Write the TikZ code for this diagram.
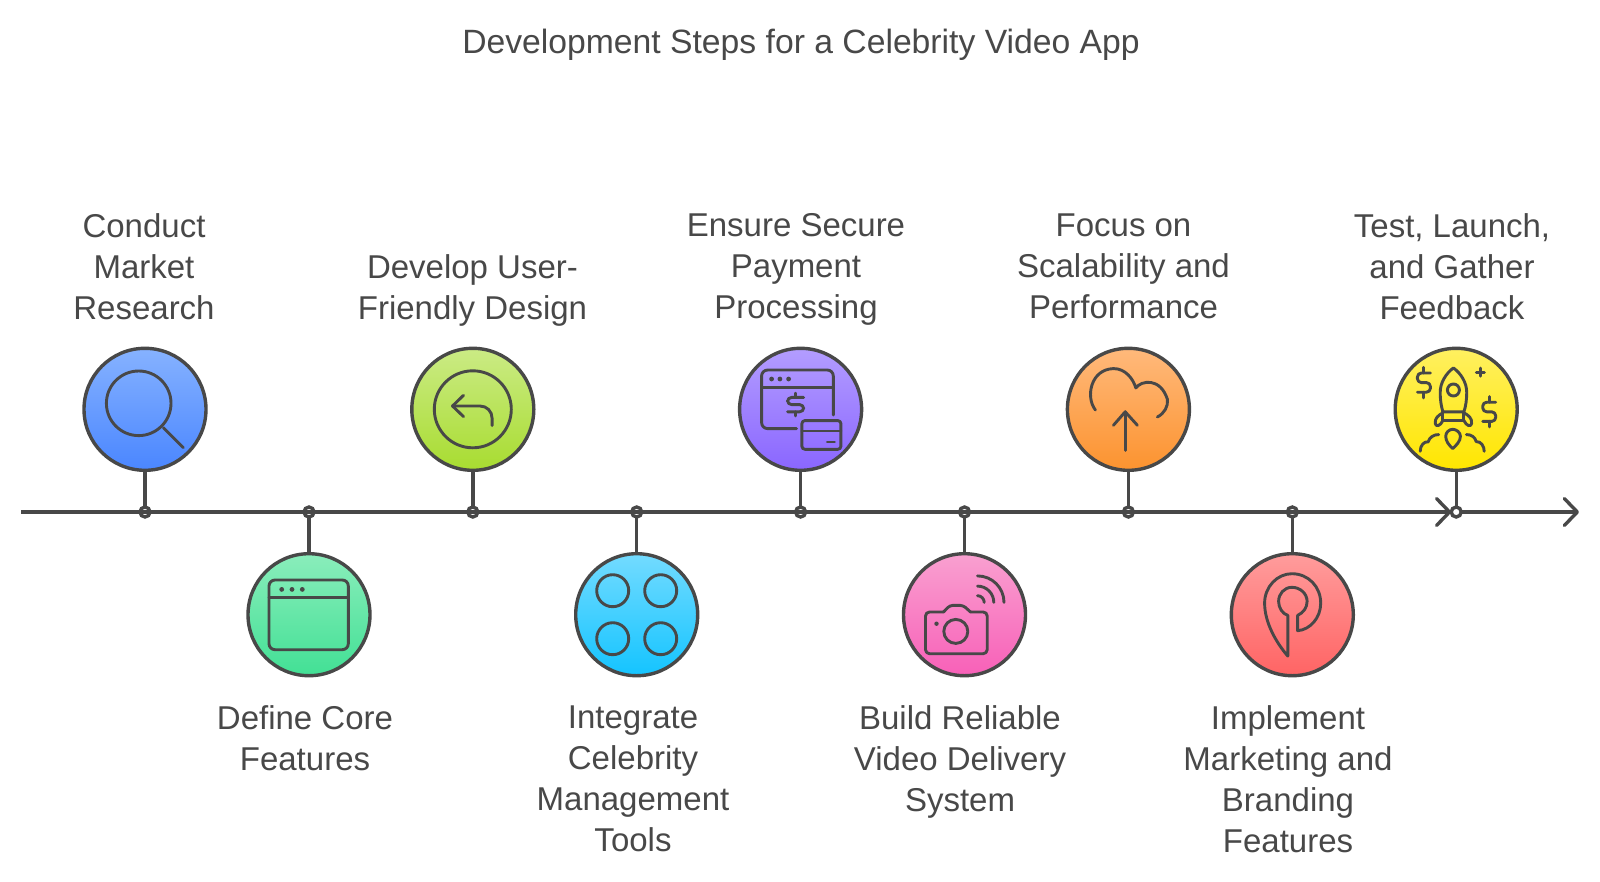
\documentclass[tikz,border=0pt]{standalone}
\usepackage{fontspec}
\setmainfont{Liberation Sans}
\usetikzlibrary{arrows.meta,positioning,shapes.geometric}
\definecolor{inchiostro}{HTML}{484848}
\begin{document}
\begin{tikzpicture}[x=1pt,y=-1pt]
\tikzset{base/.style={draw=inchiostro,line width=3.4pt,outer sep=0pt,inner sep=0pt}, }
\tikzset{step node/.style={base,circle,minimum size=122pt}, }
\tikzset{dot node/.style={base,circle,fill=white,minimum size=10pt}, }
\tikzset{label node/.style={text=inchiostro,align=center,font=\fontsize{33}{41}\selectfont,execute at begin node={\rule{0pt}{39.5pt}},execute at end node={\rule[-8.3pt]{0pt}{8.3pt}}}, }
\tikzset{icon/.style={draw=inchiostro,line width=2.9pt,line cap=round,line join=round}, }
\tikzset{linea/.style={draw=inchiostro,line width=3.4pt}, }
\tikzset{freccia/.style={linea,-{Straight Barb[length=13pt,width=27pt,round]}}, }
\tikzset{blue node/.style={top color=blue1,bottom color=blue2}, }
\definecolor{blue1}{HTML}{86B2FF}\definecolor{blue2}{HTML}{4A86FF}
\definecolor{mint1}{HTML}{8AEDBB}\definecolor{mint2}{HTML}{42E095}
\definecolor{lime1}{HTML}{CBEB85}\definecolor{lime2}{HTML}{A8DC30}
\definecolor{cyan1}{HTML}{73DBFF}\definecolor{cyan2}{HTML}{14C4FF}
\definecolor{viola1}{HTML}{B39DFF}\definecolor{viola2}{HTML}{8A66FF}
\definecolor{pink1}{HTML}{F9A0D0}\definecolor{pink2}{HTML}{F860B8}
\definecolor{orange1}{HTML}{FFB97B}\definecolor{orange2}{HTML}{FC932F}
\definecolor{red1}{HTML}{FF9C9C}\definecolor{red2}{HTML}{FF6464}
\definecolor{yellow1}{HTML}{FFF060}\definecolor{yellow2}{HTML}{FFE600}
\tikzset{mint node/.style={top color=mint1,bottom color=mint2}, }
\tikzset{lime node/.style={top color=lime1,bottom color=lime2}, }
\tikzset{cyan node/.style={top color=cyan1,bottom color=cyan2}, }
\tikzset{viola node/.style={top color=viola1,bottom color=viola2}, }
\tikzset{pink node/.style={top color=pink1,bottom color=pink2}, }
\tikzset{orange node/.style={top color=orange1,bottom color=orange2}, }
\tikzset{red node/.style={top color=red1,bottom color=red2}, }
\tikzset{yellow node/.style={top color=yellow1,bottom color=yellow2}, }
\tikzset{dollar/.pic={
	\draw[icon,rounded corners=4pt] (7,-6) -- (-7,-6) -- (-7,0) -- (7,0) -- (7,6) -- (-7,6);
	\draw[icon] (0,-9.5) -- (0,-6) (0,6) -- (0,9.5);
}, }
\path[use as bounding box] (0,0) rectangle (1600,881);

\node[label node,font=\fontsize{33.7}{41}\selectfont] (titolo) at (801,37.6) {Development Steps for a Celebrity Video App};

% timeline
\coordinate (start) at (21,512);
\coordinate (end) at (1579,512);
\node[dot node] (d1) at (145,512) {};
\node[dot node] (d2) at (309,512) {};
\node[dot node] (d3) at (472.8,512) {};
\node[dot node] (d4) at (636.7,512) {};
\node[dot node] (d5) at (800.6,512) {};
\node[dot node] (d6) at (964.5,512) {};
\node[dot node] (d7) at (1128.4,512) {};
\node[dot node] (d8) at (1292.3,512) {};
\node[dot node] (d9) at (1456.2,512) {};

\node[step node,blue node,above=36.7pt of d1] (s1) {};
\node[step node,mint node,below=36.7pt of d2] (s2) {};
\node[step node,lime node,above=36.7pt of d3] (s3) {};
\node[step node,cyan node,below=36.7pt of d4] (s4) {};
\node[step node,viola node,above=36.7pt of d5] (s5) {};
\node[step node,pink node,below=36.7pt of d6] (s6) {};
\node[step node,orange node,above=36.7pt of d7] (s7) {};
\node[step node,red node,below=36.7pt of d8] (s8) {};
\node[step node,yellow node,above=36.7pt of d9] (s9) {};

\draw[freccia] (start) -- (d9);
\draw[freccia] (d9) -- (end);
\foreach \n in {1,...,9} {
	\draw[linea] (s\n) -- (d\n);
}

\node[label node] (t1) at (144,270.6) {Conduct\\Market\\Research};
\node[label node] (t2) at (305,742) {Define Core\\Features};
\node[label node] (t3) at (472.5,291) {Develop User-\\Friendly Design};
\node[label node] (t4) at (633,783) {Integrate\\Celebrity\\Management\\Tools};
\node[label node] (t5) at (796,270.6) {Ensure Secure\\Payment\\Processing};
\node[label node] (t6) at (960,762.6) {Build Reliable\\Video Delivery\\System};
\node[label node] (t7) at (1123.5,270.6) {Focus on\\Scalability and\\Performance};
\node[label node] (t8) at (1288,783) {Implement\\Marketing and\\Branding\\Features};
\node[label node] (t9) at (1452,270.6) {Test, Launch,\\and Gather\\Feedback};

% icons
\begin{scope}[shift={(s1.center)}]
	\draw[icon] (-6.3,-6) circle (32.3);
	\draw[icon] (18.3,18.3) -- (38.3,38.3);
\end{scope}
\begin{scope}[shift={(s2.center)}]
	\draw[icon,rounded corners=6pt] (-40,-34.7) rectangle (39.3,35);
	\draw[icon] (-40,-17) -- (39.3,-17);
	\foreach \x in {-27.3,-17,-6.7} {
		\fill[inchiostro] (\x,-25.3) circle (2.4);
	}
\end{scope}
\begin{scope}[shift={(s3.center)}]
	\draw[icon] (0,0) circle (38.5);
	\draw[icon] (-9.3,-14) -- (-20.3,-3.3) -- (-9.3,7.3);
	\draw[icon] (-20.3,-3.3) -- (7.3,-3.3) .. controls (14,-3.3) and (19.3,2) .. (19.3,9) -- (19.3,16.3);
\end{scope}
\begin{scope}[shift={(s4.center)}]
	\foreach \x in {-24,24} {
		\foreach \y in {-24,24} {
			\draw[icon] (\x,\y) circle (16);
		}
	}
\end{scope}
\begin{scope}[shift={(s5.center)}]
	\draw[icon,rounded corners=6pt] (32.7,5.7) -- (32.7,-39.3) -- (-39,-39.3) -- (-39,19.3) -- (-4,19.3);
	\draw[icon] (-39,-22) -- (32.7,-22);
	\foreach \x in {-29,-20.7,-12} {
		\fill[inchiostro] (\x,-30.3) circle (2.4);
	}
	\pic[xscale=1.15,yscale=1.2] at (-5,-4.7) {dollar};
	\draw[icon,rounded corners=3pt] (1.3,11.3) rectangle (40.3,40);
	\draw[icon] (1.3,21.7) -- (40.3,21.7);
	\draw[icon] (26.7,32.7) -- (34,32.7);
\end{scope}
\begin{scope}[shift={(s6.center)}]
	\draw[icon,rounded corners=4pt] (-21,-2.7) -- (-39,-2.7) -- (-39,39) -- (22.7,39) -- (22.7,-2.7) -- (6,-2.7);
	\draw[icon,rounded corners=3pt] (-21,-2.7) -- (-14.7,-9.3) -- (-1.3,-9.3) -- (6,-2.7);
	\draw[icon] (-8.7,16.7) circle (12);
	\fill[inchiostro] (-28,9) circle (2.2);
	\foreach \r in {6.7,16.3,26.5} {
		\draw[icon] (13,-12.3-\r) arc[start angle=-90,end angle=0,radius=\r];
	}
\end{scope}
\begin{scope}[shift={(s7.center)}]
	\draw[icon] (-33,0.7) .. controls (-43,-12) and (-38,-40) .. (-15,-40.7) .. controls (-3,-41) and (5,-30) .. (7.4,-21.4) .. controls (13,-29) and (32,-32) .. (39,-10) .. controls (40,-3) and (36,4) .. (29,7.7);
	\draw[icon] (-3.2,2.5) -- (-3.2,41);
	\draw[icon] (-15,16) -- (-3.2,2.5) -- (9,16);
\end{scope}
\begin{scope}[shift={(s8.center)}]
	\draw[icon] (-4.5,41.4) .. controls (-16,28) and (-27.7,8) .. (-27.7,-11.6) .. controls (-27.7,-28) and (-15,-41) .. (-0.4,-41) .. controls (16,-41) and (28.4,-28) .. (28.4,-11.6) .. controls (28.4,3) and (18,15) .. (5.3,16) -- (5.3,0.7) .. controls (11,-2) and (14.8,-7) .. (14.8,-13.3) .. controls (14.8,-21) and (8,-27.4) .. (-0.4,-27.4) .. controls (-8,-27.4) and (-13.7,-21) .. (-13.7,-13.3) .. controls (-13.7,-7) and (-10,-1) .. (-4.5,0.7) -- cycle;
\end{scope}
\begin{scope}[shift={(s9.center)}]
	\draw[icon] (-2.8,-41.4) .. controls (-10,-36) and (-16,-27) .. (-16,-17) .. controls (-16,-9) and (-15,-3) .. (-13.3,2.5) -- (7.7,2.5) .. controls (9.5,-3) and (10.5,-9) .. (10.5,-17) .. controls (10.5,-27) and (4.5,-36) .. (-2.8,-41.4) -- cycle;
	\draw[icon] (-2.8,-19.3) circle (6);
	\draw[icon] (-13.3,2.5) -- (-13.3,11.2) -- (7.7,11.2) -- (7.7,2.5);
	\draw[icon] (-13.3,3.5) .. controls (-18,6) and (-21.5,9) .. (-21,14) .. controls (-20.5,18) and (-16,17) .. (-13.3,11.2);
	\draw[icon] (7.7,3.5) .. controls (12.4,6) and (15.9,9) .. (15.4,14) .. controls (14.9,18) and (10.4,17) .. (7.7,11.2);
	\draw[icon] (-3.5,39.3) .. controls (-7,36) and (-10.5,32) .. (-10.5,27) .. controls (-10.5,23) and (-7,20) .. (-3.5,20) .. controls (0,20) and (4.2,23) .. (4.2,27) .. controls (4.2,32) and (0,36) .. (-3.5,39.3) -- cycle;
	\draw[icon] (-36,42) .. controls (-36,36) and (-32,32) .. (-28,32.5) .. controls (-27,28) and (-22,25) .. (-17.5,25.3);
	\draw[icon] (10.2,25.3) .. controls (15,25) and (19,28) .. (20,32.3) .. controls (25,32) and (28,37) .. (28,42);
	\pic[xscale=.93,yscale=1.6] at (-32.3,-26.7) {dollar};
	\pic[xscale=.93,yscale=1.6] at (33,2.5) {dollar};
	\draw[icon] (24.2,-41.2) -- (24.2,-33.2) (20.2,-37.2) -- (28.2,-37.2);
\end{scope}
\end{tikzpicture}
\end{document}
